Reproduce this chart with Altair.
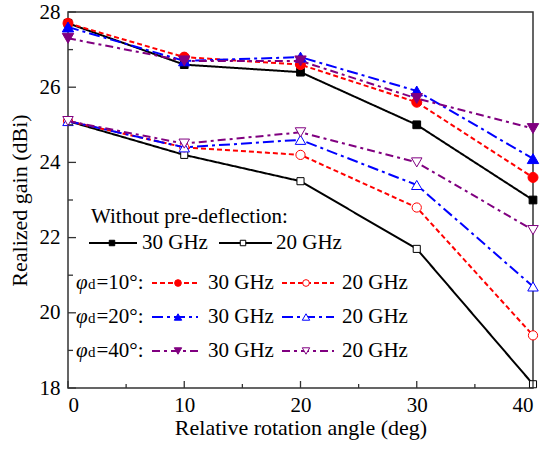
import altair as alt
import pandas as pd

angles = [0, 10, 20, 30, 40]
no_30 = [27.7, 26.6, 26.4, 25.0, 23.0]
no_20 = [25.1, 24.2, 23.5, 21.7, 18.1]
d10_30 = [27.7, 26.8, 26.6, 25.6, 23.6]
d10_20 = [25.1, 24.4, 24.2, 22.8, 19.4]
d20_30 = [27.6, 26.7, 26.8, 25.9, 24.1]
d20_20 = [25.1, 24.4, 24.6, 23.4, 20.7]
d40_30 = [27.3, 26.7, 26.7, 25.7, 24.9]
d40_20 = [25.1, 24.5, 24.8, 24.0, 22.2]

y_major = [18, 20, 22, 24, 26, 28]
y_minor = [19, 21, 23, 25, 27]
x_major = [0, 10, 20, 30, 40]
x_minor = [5, 15, 25, 35]

FONT = "Liberation Serif"
W, H = 465, 376
RED, BLUE, PURPLE, BLACK = "#ff0000", "#0000ff", "#800080", "#000000"
DASH = {"solid": [1, 0], "red": [5, 3], "blue": [11, 4, 3, 4], "purple": [8, 4, 3, 4]}

# (values, color, dash, shape, filled, size)
series = [
    (no_30, BLACK, "solid", "square", True, 60),
    (no_20, BLACK, "solid", "square", False, 50),
    (d10_30, RED, "red", "circle", True, 100),
    (d10_20, RED, "red", "circle", False, 85),
    (d20_30, BLUE, "blue", "triangle-up", True, 130),
    (d20_20, BLUE, "blue", "triangle-up", False, 110),
    (d40_30, PURPLE, "purple", "triangle-down", True, 130),
    (d40_20, PURPLE, "purple", "triangle-down", False, 110),
]

xs = alt.Scale(domain=[0, 40], nice=False, zero=False)
ys = alt.Scale(domain=[18, 28], nice=False, zero=False)
XAX = alt.Axis(title="Relative rotation angle (deg)", values=x_major, format="d",
               ticks=False, domain=False, grid=False, labelPadding=6,
               labelFont=FONT, labelFontSize=21, labelColor="black",
               titleFont=FONT, titleFontSize=22, titleFontWeight="normal",
               titleColor="black", titlePadding=2)
YAX = alt.Axis(title="Realized gain (dBi)", values=y_major, format="d",
               ticks=False, domain=False, grid=False, labelPadding=8,
               labelFont=FONT, labelFontSize=21, labelColor="black",
               titleFont=FONT, titleFontSize=22, titleFontWeight="normal",
               titleColor="black", titlePadding=8)


def X(f):
    return alt.X(f, scale=xs, axis=XAX, title="Relative rotation angle (deg)")


def Y(f):
    return alt.Y(f, scale=ys, axis=YAX, title="Realized gain (dBi)")


layers = []
for vals, col, dash, shape, filled, size in series:
    df = pd.DataFrame({"angle": angles, "gain": vals})
    layers.append(alt.Chart(df).mark_line(color=col, strokeDash=DASH[dash],
                                          strokeWidth=2).encode(x=X("angle:Q"), y=Y("gain:Q")))
    layers.append(alt.Chart(df).mark_point(
        shape=shape, filled=True, fill=col if filled else "white", stroke=col,
        strokeWidth=1, size=size, opacity=1).encode(x=X("angle:Q"), y=Y("gain:Q")))

# inward ticks
TC = "#333333"
layers.append(alt.Chart(pd.DataFrame({"v": y_major})).mark_rule(color=TC, strokeWidth=1.3).encode(
    y=Y("v:Q"), x=alt.value(0), x2=alt.value(8)))
layers.append(alt.Chart(pd.DataFrame({"v": y_minor})).mark_rule(color=TC, strokeWidth=1.3).encode(
    y=Y("v:Q"), x=alt.value(0), x2=alt.value(5)))
layers.append(alt.Chart(pd.DataFrame({"v": x_major})).mark_rule(color=TC, strokeWidth=1.3).encode(
    x=X("v:Q"), y=alt.value(H), y2=alt.value(H - 7)))
layers.append(alt.Chart(pd.DataFrame({"v": x_minor})).mark_rule(color=TC, strokeWidth=1.3).encode(
    x=X("v:Q"), y=alt.value(H), y2=alt.value(H - 4)))

one = alt.Data(values=[{}])


def text(t, x, y, size=21, style="normal", baseline="middle"):
    return alt.Chart(one).mark_text(text=t, align="left", baseline=baseline, font=FONT,
                                    fontSize=size, fontStyle=style, color="black").encode(
        x=alt.value(x), y=alt.value(y))


def seg(x1, x2, y, col, dash):
    return alt.Chart(one).mark_rule(color=col, strokeDash=DASH[dash], strokeWidth=2).encode(
        x=alt.value(x1), x2=alt.value(x2), y=alt.value(y))


def mark(x, y, col, shape, filled, size):
    return alt.Chart(one).mark_point(shape=shape, filled=True, fill=col if filled else "white",
                                     stroke=col, strokeWidth=1, size=size, opacity=1).encode(
        x=alt.value(x), y=alt.value(y))


# legend
layers.append(text("Without pre-deflection:", 23, 205))
rowB = 231
layers += [seg(21, 69, rowB, BLACK, "solid"), mark(44, rowB, BLACK, "square", True, 30),
           text("30 GHz", 74, rowB),
           seg(151, 204, rowB, BLACK, "solid"), mark(175, rowB, BLACK, "square", False, 30),
           text("20 GHz", 208, rowB)]

rows = [(271, "=10°:", RED, "red", "circle", 45),
        (305, "=20°:", BLUE, "blue", "triangle-up", 55),
        (339, "=40°:", PURPLE, "purple", "triangle-down", 55)]
for y, lab, col, dash, shape, size in rows:
    layers += [text("φ", 8, y, style="italic"),
               text("d", 20, y + 6, size=15, baseline="alphabetic"),
               text(lab, 28.5, y),
               seg(84, 130, y, col, dash), mark(110, y, col, shape, True, size),
               text("30 GHz", 140, y),
               seg(214, 266, y, col, dash), mark(238, y, col, shape, False, size),
               text("20 GHz", 274, y)]

chart = alt.layer(*layers).properties(
    width=W, height=H,
    autosize=alt.AutoSizeParams(type="none"),
    padding={"left": 68, "top": 12, "right": 10, "bottom": 63},
    background="white",
).configure_view(stroke="#333333", strokeWidth=1.5)

chart.save("out.html", embed_options={"renderer": "svg", "actions": False})
